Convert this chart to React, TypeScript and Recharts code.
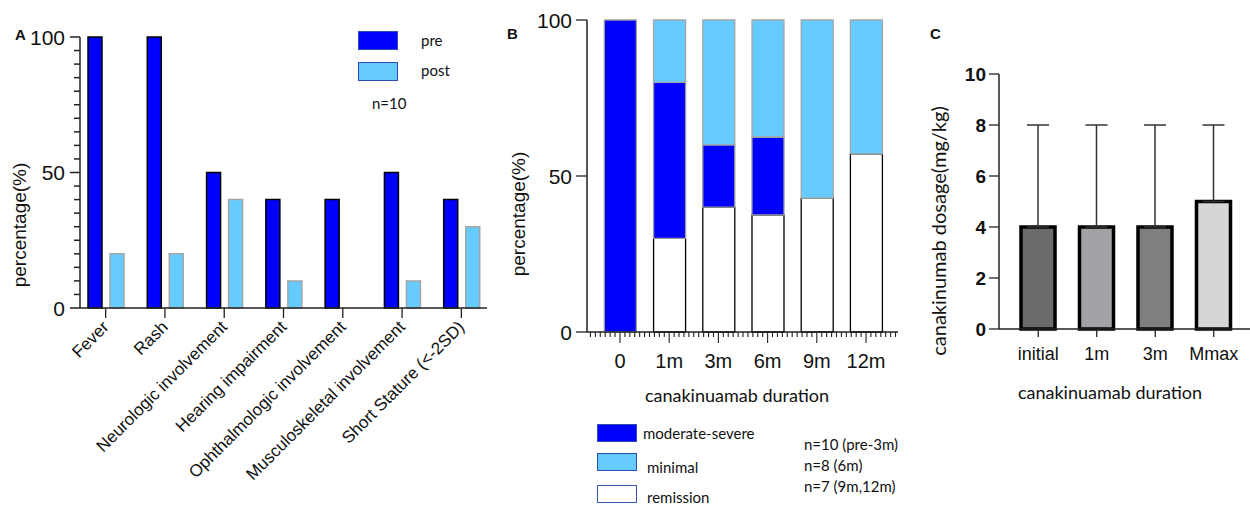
import React from "react";
import { Bar, BarChart, Cell, ErrorBar, XAxis, YAxis } from "recharts";

const ARIAL = "'Liberation Sans', Arial, sans-serif";
const CALIBRI = "Lato, 'Open Sans', sans-serif";
const INK = "#111";

// panel A: clinical features before / after treatment
const symptoms = [
  "Fever",
  "Rash",
  "Neurologic involvement",
  "Hearing impairment",
  "Ophthalmologic involvement",
  "Musculoskeletal involvement",
  "Short Stature (<-2SD)",
];
const preValues = [100, 100, 50, 40, 40, 50, 40];
const postValues = [20, 20, 40, 10, 0, 10, 30];
const pctTicksA = Array.from({ length: 21 }, (_, i) => i * 5);

// panel B: disease activity over time (stacked %)
const durationLabels = ["0", "1m", "3m", "6m", "9m", "12m"];
const durationPos = [0, 1, 2, 3, 4, 5];
const remission = [0, 30, 40, 37.5, 42.9, 57.1];
const moderateSevere = [100, 50, 20, 25, 0, 0];
const minimal = [0, 20, 40, 37.5, 57.1, 42.9];
const pctTicksB = [0, 50, 100];
const minorTicksB = Array.from({ length: 63 }, (_, i) => (i - 6) / 10);

// panel C: dosage
const doseLabels = ["initial", "1m", "3m", "Mmax"];
const doseMedian = [4, 4, 4, 5];
const doseMax = [8, 8, 8, 8];
const doseFills = ["#6b6b6b", "#a2a1a6", "#7f7f7f", "#d6d6d6"];
const doseTicks = [0, 2, 4, 6, 8, 10];

const dataA = symptoms.map((name, i) => ({ name, pre: preValues[i], post: postValues[i] }));
const dataB = durationPos.map((pos, i) => ({
  pos,
  remission: remission[i],
  moderate: moderateSevere[i],
  minimal: minimal[i],
}));
const dataC = doseLabels.map((name, i) => ({
  name,
  dose: doseMedian[i],
  err: [0, doseMax[i] - doseMedian[i]],
}));

function PctTickA({ x, y, payload }: any) {
  const major = payload.value % 50 === 0;
  return (
    <g>
      <line x1={x - (major ? 10 : 6)} x2={x} y1={y} y2={y} stroke="#222" strokeWidth={1.5} />
      {major && (
        <text x={x - 15} y={y} textAnchor="end" dominantBaseline="central" fontSize={21} fontFamily={ARIAL} fill={INK}>
          {payload.value}
        </text>
      )}
    </g>
  );
}

function SymptomTick({ x, y, payload }: any) {
  return (
    <g>
      <line x1={x} x2={x} y1={y} y2={y + 10} stroke="#222" strokeWidth={1.3} />
      <text
        transform={`translate(${x + 4},${y + 20}) rotate(-45)`}
        textAnchor="end"
        fontSize={17}
        fontFamily={ARIAL}
        fill={INK}
      >
        {payload.value}
      </text>
    </g>
  );
}

function PctTickB({ x, y, payload }: any) {
  return (
    <g>
      <line x1={x - 11} x2={x} y1={y} y2={y} stroke="#222" strokeWidth={1.3} />
      <text x={x - 15} y={y} textAnchor="end" dominantBaseline="central" fontSize={21} fontFamily={ARIAL} fill={INK}>
        {payload.value}
      </text>
    </g>
  );
}

function DurationTick({ x, y, payload }: any) {
  const v = payload.value;
  const k = Math.round(v);
  const major = Math.abs(v - k) < 1e-6 && k >= 0 && k < durationLabels.length;
  return (
    <g>
      <line x1={x} x2={x} y1={y} y2={y + (major ? 11 : 5)} stroke="#222" strokeWidth={1.1} />
      {major && (
        <text x={x} y={y + 36} textAnchor="middle" fontSize={20} fontFamily={ARIAL} fill={INK}>
          {durationLabels[k]}
        </text>
      )}
    </g>
  );
}

function DoseTickY({ x, y, payload }: any) {
  return (
    <g>
      <line x1={x - 10} x2={x} y1={y} y2={y} stroke="#222" strokeWidth={1.3} />
      <text x={x - 13} y={y} textAnchor="end" dominantBaseline="central" fontSize={19} fontWeight="bold" fontFamily={ARIAL} fill={INK}>
        {payload.value}
      </text>
    </g>
  );
}

function DoseTickX({ x, y, payload }: any) {
  return (
    <g>
      <line x1={x} x2={x} y1={y} y2={y + 8} stroke="#222" strokeWidth={1.3} />
      <text x={x} y={y + 31} textAnchor="middle" fontSize={18} fontFamily={ARIAL} fill={INK}>
        {payload.value}
      </text>
    </g>
  );
}

function Txt({ x, y, size, children, bold, font = CALIBRI, center, rotate }: any) {
  const tf = rotate
    ? "translate(-50%,-50%) rotate(-90deg)"
    : center
    ? "translate(-50%,-50%)"
    : "translate(0,-50%)";
  return (
    <div
      style={{
        position: "absolute",
        left: x,
        top: y,
        transform: tf,
        whiteSpace: "nowrap",
        fontSize: size,
        fontFamily: font,
        fontWeight: bold ? "bold" : "normal",
        color: INK,
        lineHeight: 1,
      }}
    >
      {children}
    </div>
  );
}

function Swatch({ x, y, w, h, fill, stroke }: any) {
  return (
    <div
      style={{
        position: "absolute",
        left: x,
        top: y,
        width: w,
        height: h,
        background: fill,
        border: `1.5px solid ${stroke}`,
        boxSizing: "border-box",
      }}
    />
  );
}

export default function App() {
  return (
    <div style={{ position: "absolute", left: 0, top: 0, width: 1250, height: 505, background: "#fff", overflow: "hidden" }}>
      <div style={{ position: "absolute", left: 0, top: 0 }}>
        <BarChart width={500} height={505} data={dataA} margin={{ top: 37, right: 13, bottom: 0, left: 0 }} barSize={14} barGap={8}>
          <XAxis
            dataKey="name"
            height={197}
            interval={0}
            tickSize={0}
            tickMargin={0}
            tickLine={false}
            padding={{ left: -4, right: -4 }}
            axisLine={{ stroke: "#222", strokeWidth: 1.5 }}
            tick={<SymptomTick />}
          />
          <YAxis
            width={80}
            domain={[0, 100]}
            ticks={pctTicksA}
            interval={0}
            tickSize={0}
            tickMargin={0}
            tickLine={false}
            axisLine={{ stroke: "#222", strokeWidth: 1.5 }}
            tick={<PctTickA />}
          />
          <Bar dataKey="pre" fill="#0000ff" stroke="#000" strokeWidth={1.5} isAnimationActive={false} />
          <Bar dataKey="post" fill="#66ccff" stroke="#a5a5a5" strokeWidth={1.5} isAnimationActive={false} />
        </BarChart>
      </div>

      <div style={{ position: "absolute", left: 500, top: 0 }}>
        <BarChart width={400} height={505} data={dataB} margin={{ top: 20, right: 2, bottom: 0, left: 0 }} barSize={32}>
          <XAxis
            dataKey="pos"
            type="number"
            domain={[-0.67, 5.65]}
            ticks={minorTicksB}
            interval={0}
            height={173}
            tickSize={0}
            tickMargin={0}
            tickLine={false}
            axisLine={{ stroke: "#222", strokeWidth: 1.5 }}
            tick={<DurationTick />}
          />
          <YAxis
            width={87}
            domain={[0, 100]}
            ticks={pctTicksB}
            interval={0}
            tickSize={0}
            tickMargin={0}
            tickLine={false}
            axisLine={{ stroke: "#222", strokeWidth: 1.5 }}
            tick={<PctTickB />}
          />
          <Bar dataKey="remission" stackId="s" fill="#ffffff" stroke="#000" strokeWidth={1.3} isAnimationActive={false} />
          <Bar dataKey="moderate" stackId="s" fill="#0000ff" stroke="#9a9a9a" strokeWidth={1.3} isAnimationActive={false} />
          <Bar dataKey="minimal" stackId="s" fill="#66ccff" stroke="#a5a5a5" strokeWidth={1.3} isAnimationActive={false} />
        </BarChart>
      </div>

      <div style={{ position: "absolute", left: 920, top: 0 }}>
        <BarChart width={330} height={505} data={dataC} margin={{ top: 74, right: 0, bottom: 0, left: 0 }} barSize={34}>
          <XAxis
            dataKey="name"
            height={176}
            interval={0}
            tickSize={0}
            tickMargin={0}
            tickLine={false}
            padding={{ left: 10, right: 7 }}
            axisLine={{ stroke: "#222", strokeWidth: 1.5 }}
            tick={<DoseTickX />}
          />
          <YAxis
            width={79}
            domain={[0, 10]}
            ticks={doseTicks}
            interval={0}
            tickSize={0}
            tickMargin={0}
            tickLine={false}
            axisLine={{ stroke: "#222", strokeWidth: 1.5 }}
            tick={<DoseTickY />}
          />
          <Bar dataKey="dose" stroke="#000" strokeWidth={3.5} isAnimationActive={false}>
            {dataC.map((d, i) => (
              <Cell key={d.name} fill={doseFills[i]} />
            ))}
            <ErrorBar dataKey="err" direction="y" width={11} stroke="#333" strokeWidth={1.5} isAnimationActive={false} />
          </Bar>
        </BarChart>
      </div>

      {/* panel A annotations */}
      <Txt x={15} y={34} size={15} bold font={ARIAL}>A</Txt>
      <Txt x={19} y={225} size={19} font={ARIAL} rotate>percentage(%)</Txt>
      <Swatch x={358} y={31} w={40} h={19} fill="#0000ff" stroke="#2b4db5" />
      <Swatch x={358} y={62} w={40} h={19} fill="#66ccff" stroke="#2b4db5" />
      <Txt x={421} y={40} size={15}>pre</Txt>
      <Txt x={421} y={70} size={15}>post</Txt>
      <Txt x={372} y={103} size={15}>n=10</Txt>

      {/* panel B annotations */}
      <Txt x={507} y={33} size={15} bold font={ARIAL}>B</Txt>
      <Txt x={518} y={214} size={19} font={ARIAL} rotate>percentage(%)</Txt>
      <Txt x={737} y={395} size={18} center>canakinuamab duration</Txt>
      <Swatch x={597} y={424} w={40} h={18} fill="#0000ff" stroke="#2b4db5" />
      <Swatch x={597} y={453} w={40} h={18} fill="#66ccff" stroke="#2b4db5" />
      <Swatch x={597} y={485} w={40} h={18} fill="#ffffff" stroke="#3558b0" />
      <Txt x={643} y={433} size={15}>moderate-severe</Txt>
      <Txt x={647} y={467} size={15}>minimal</Txt>
      <Txt x={647} y={497} size={15}>remission</Txt>
      <Txt x={804} y={444} size={15}>n=10 (pre-3m)</Txt>
      <Txt x={804} y={465} size={15}>n=8 (6m)</Txt>
      <Txt x={804} y={486} size={15}>n=7 (9m,12m)</Txt>

      {/* panel C annotations */}
      <Txt x={930} y={33} size={15} bold font={ARIAL}>C</Txt>
      <Txt x={938} y={231} size={20} rotate>canakinumab dosage(mg/kg)</Txt>
      <Txt x={1110} y={392} size={18} center>canakinuamab duration</Txt>
    </div>
  );
}
